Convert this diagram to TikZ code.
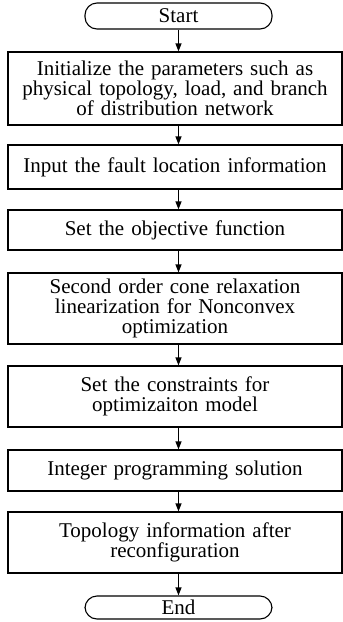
\documentclass[tikz,border=0pt]{standalone}
\usepackage{fontspec}
\setmainfont{Liberation Serif}
\usetikzlibrary{arrows.meta}
\begin{document}
\begin{tikzpicture}[x=1pt,y=1pt,
  every node/.style={font=\fontsize{21}{20}\selectfont, inner sep=0pt, align=center},
  procbox/.style={draw, line width=1.1pt, minimum width=334pt, text width=330pt},
  term/.style={draw, line width=1.1pt, rounded corners=12pt, minimum width=187pt},
  arr/.style={line width=1.1pt, -{Triangle[length=8pt,width=6pt]}}]
\useasboundingbox (0,0) rectangle (343,-622);
\node[term, minimum height=26pt] (s) at (178.5,-16) {Start};
\node[procbox, minimum height=73pt] (b1) at (175,-88.5) {Initialize the parameters such as\\physical topology, load, and branch\\of distribution network};
\node[procbox, minimum height=44pt] (b2) at (175,-167) {Input the fault location information};
\node[procbox, minimum height=40pt] (b3) at (175,-230) {Set the objective function};
\node[procbox, minimum height=71pt] (b4) at (175,-308.5) {Second order cone relaxation\\linearization for Nonconvex\\optimization};
\node[procbox, minimum height=61pt] (b5) at (175,-396.5) {Set the constraints for\\optimizaiton model};
\node[procbox, minimum height=41pt] (b6) at (175,-470.5) {Integer programming solution};
\node[procbox, minimum height=61pt] (b7) at (175,-542.5) {Topology information after\\reconfiguration};
\node[term, minimum height=23pt] (e) at (178.5,-607.5) {End};
\draw[arr] (s.south) -- (s.south |- b1.north);
\draw[arr] (s.south |- b1.south) -- (s.south |- b2.north);
\draw[arr] (s.south |- b2.south) -- (s.south |- b3.north);
\draw[arr] (s.south |- b3.south) -- (s.south |- b4.north);
\draw[arr] (s.south |- b4.south) -- (s.south |- b5.north);
\draw[arr] (s.south |- b5.south) -- (s.south |- b6.north);
\draw[arr] (s.south |- b6.south) -- (s.south |- b7.north);
\draw[arr] (s.south |- b7.south) -- (e.north);
\end{tikzpicture}
\end{document}
